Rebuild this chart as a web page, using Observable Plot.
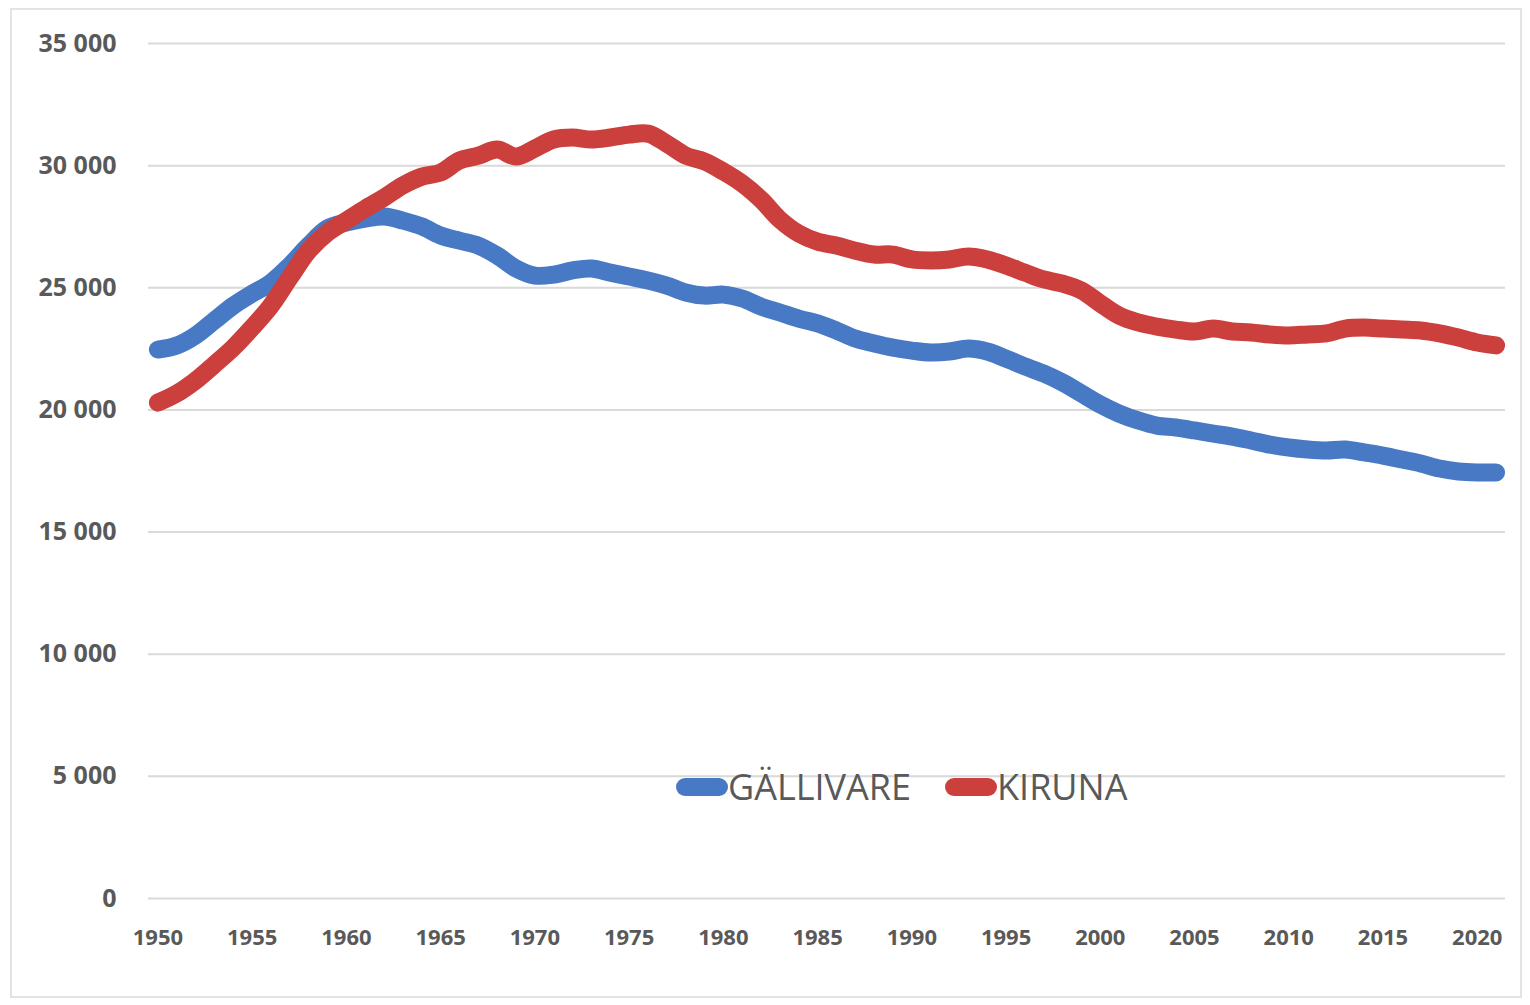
<!DOCTYPE html>
<html>
<head>
<meta charset="utf-8">
<script src="https://cdn.jsdelivr.net/npm/d3@7"></script>
<script src="https://cdn.jsdelivr.net/npm/@observablehq/plot@0.6"></script>
<style>
  html, body { margin: 0; padding: 0; background: #fff; }
  #wrap { position: relative; width: 1530px; height: 1005px; overflow: hidden; }
  #frame { position: absolute; left: 10px; top: 8px; width: 1512px; height: 990px; border: 2px solid #e3e3e3; box-sizing: border-box; pointer-events: none; }
  #legend { position: absolute; top: 762px; left: 676px; display: flex; align-items: center; font-family: "Open Sans", sans-serif; font-size: 36px; color: #595959; white-space: nowrap; }
  #legend .item { display: flex; align-items: center; margin-right: 34px; }
  #legend .sw { width: 52px; height: 18px; border-radius: 9px; margin-right: 0px; }
</style>
</head>
<body>
<div id="wrap">
  <div id="chart"></div>
  <div id="frame"></div>
  <div id="legend"></div>
</div>
<script>
const years = d3.range(1950, 2022);
const seriesNames = ["GÄLLIVARE", "KIRUNA"];
const seriesColors = ["#4779c4", "#cb3f3c"];
const gallivare = [
  22470, 22640, 23050, 23660, 24270, 24760, 25210, 25910, 26730, 27430,
  27670, 27830, 27920, 27750, 27510, 27140, 26930, 26730, 26320, 25790,
  25500, 25540, 25710, 25790, 25620, 25460, 25300, 25090, 24810, 24680,
  24720, 24560, 24230, 23990, 23740, 23540, 23250, 22920, 22720, 22550,
  22430, 22350, 22390, 22510, 22390, 22100, 21780, 21490, 21120, 20670,
  20220, 19850, 19570, 19360, 19280, 19160, 19030, 18910, 18750, 18580,
  18460, 18380, 18340, 18380, 18260, 18130, 17970, 17810, 17600, 17480,
  17440, 17440
];
const kiruna = [
  20300, 20670, 21200, 21860, 22550, 23370, 24270, 25420, 26520, 27260,
  27750, 28240, 28690, 29190, 29550, 29720, 30210, 30410, 30660, 30370,
  30700, 31070, 31150, 31070, 31150, 31270, 31310, 30900, 30410, 30170,
  29760, 29270, 28610, 27790, 27220, 26890, 26730, 26520, 26360, 26360,
  26160, 26120, 26160, 26280, 26160, 25910, 25620, 25340, 25170, 24890,
  24360, 23860, 23580, 23410, 23290, 23210, 23330, 23210, 23170, 23090,
  23050, 23090, 23130, 23330, 23370, 23330, 23290, 23250, 23130, 22960,
  22760, 22640
];
const yTicks = [0, 5000, 10000, 15000, 20000, 25000, 30000, 35000];
const xTicks = d3.range(1950, 2021, 5);

const rows = [];
years.forEach((yr, i) => {
  rows.push({year: yr, value: gallivare[i], series: seriesNames[0]});
  rows.push({year: yr, value: kiruna[i], series: seriesNames[1]});
});

const fmt = v => d3.format(",")(v).replace(/,/g, " ");

const chart = Plot.plot({
  width: 1530,
  height: 1005,
  marginLeft: 148,
  marginRight: 25,
  marginTop: 43,
  marginBottom: 107,
  style: {fontFamily: "'Open Sans', sans-serif", background: "transparent", overflow: "visible"},
  x: {domain: [1949.5, 2021.5], ticks: xTicks, tickFormat: d => String(d), tickSize: 0, tickPadding: 31, label: null},
  y: {domain: [0, 35000], ticks: yTicks, tickFormat: fmt, tickSize: 0, tickPadding: 32, label: null},
  color: {domain: seriesNames, range: seriesColors},
  marks: [
    Plot.gridY(yTicks, {stroke: "#d9d9d9", strokeOpacity: 1, strokeWidth: 2}),
    Plot.axisY({ticks: yTicks, tickFormat: fmt, tickSize: 0, tickPadding: 32, fontSize: 25, fontWeight: 700, fill: "#595959", label: null}),
    Plot.axisX({ticks: xTicks, tickFormat: d => String(d), tickSize: 0, tickPadding: 31, fontSize: 22, fontWeight: 700, fill: "#595959", label: null}),
    Plot.line(rows, {x: "year", y: "value", z: "series", stroke: "series", strokeWidth: 18, strokeLinecap: "round", strokeLinejoin: "round", curve: "catmull-rom"})
  ]
});
document.getElementById("chart").appendChild(chart);

const legend = document.getElementById("legend");
seriesNames.forEach((name, i) => {
  const item = document.createElement("div");
  item.className = "item";
  const sw = document.createElement("div");
  sw.className = "sw";
  sw.style.background = seriesColors[i];
  const label = document.createElement("span");
  label.textContent = name;
  item.appendChild(sw);
  item.appendChild(label);
  legend.appendChild(item);
});
</script>
</body>
</html>
